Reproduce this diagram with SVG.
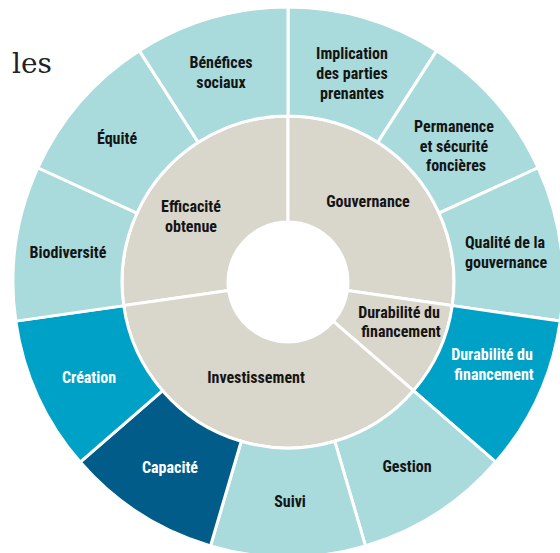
<svg xmlns="http://www.w3.org/2000/svg" width="560" height="553" viewBox="0 0 560 553">
<style>
.seg{stroke:#fff;stroke-width:3;stroke-linejoin:miter}
.lt{fill:#a9dadc}
.bg{fill:#d9d6cc}
.md{fill:#00a1c7}
.dk{fill:#025c89}
text{font-family:"Liberation Sans Narrow","Roboto Condensed","Open Sans",sans-serif;font-stretch:condensed;font-weight:bold;font-size:16px;text-anchor:middle;fill:#141414}
text.w{fill:#fff}
text.title{font-family:"DejaVu Serif","Liberation Serif",serif;font-weight:normal;font-stretch:normal;font-size:28px;text-anchor:start;fill:#222}
</style>
<rect width="560" height="553" fill="#fff"/>
<text class="title" x="12" y="73">les</text>

<g id="efficacite">
<path class="seg bg" d="M 123.69,305.62 A 166 166 0 0 1 288,116 L 288,222 A 60 60 0 0 0 228.61,290.54 Z"/>
<text x="191" y="212">Efficacité</text><text x="191" y="232">obtenue</text>
</g>
<g id="gouvernance">
<path class="seg bg" d="M 288,116 A 166 166 0 0 1 452.31,305.62 L 347.39,290.54 A 60 60 0 0 0 288,222 Z"/>
<text x="368" y="207">Gouvernance</text>
</g>
<g id="durabilite-inner">
<path class="seg bg" d="M 452.31,305.62 A 166 166 0 0 1 413.45,390.71 L 333.35,321.29 A 60 60 0 0 0 347.39,290.54 Z"/>
<text x="399" y="318">Durabilité du</text><text x="401" y="337">financement</text>
</g>
<g id="investissement">
<path class="seg bg" d="M 413.45,390.71 A 166 166 0 0 1 123.69,305.62 L 228.61,290.54 A 60 60 0 0 0 333.35,321.29 Z"/>
<text x="256" y="383">Investissement</text>
</g>

<g id="implication">
<path class="seg lt" d="M 288,7 A 275 275 0 0 1 436.68,50.66 L 377.75,142.35 A 166 166 0 0 0 288,116 Z"/>
<text x="352" y="59">Implication</text><text x="352" y="79">des parties</text><text x="352" y="99">prenantes</text>
</g>
<g id="permanence">
<path class="seg lt" d="M 436.68,50.66 A 275 275 0 0 1 538.15,167.76 L 439,213.04 A 166 166 0 0 0 377.75,142.35 Z"/>
<text x="454" y="132">Permanence</text><text x="454" y="152">et sécurité</text><text x="456" y="171">foncières</text>
</g>
<g id="qualite">
<path class="seg lt" d="M 538.15,167.76 A 275 275 0 0 1 560.2,321.14 L 452.31,305.62 A 166 166 0 0 0 439,213.04 Z"/>
<text x="505" y="248">Qualité de la</text><text x="506" y="268">gouvernance</text>
</g>
<g id="durabilite-outer">
<path class="seg md" d="M 560.2,321.14 A 275 275 0 0 1 495.83,462.09 L 413.45,390.71 A 166 166 0 0 0 452.31,305.62 Z"/>
<text class="w" x="492" y="360">Durabilité du</text><text class="w" x="494" y="380">financement</text>
</g>
<g id="gestion">
<path class="seg lt" d="M 495.83,462.09 A 275 275 0 0 1 365.48,545.87 L 334.77,441.28 A 166 166 0 0 0 413.45,390.71 Z"/>
<text x="407" y="472">Gestion</text>
</g>
<g id="suivi">
<path class="seg lt" d="M 365.48,545.87 A 275 275 0 0 1 210.52,545.87 L 241.23,441.28 A 166 166 0 0 0 334.77,441.28 Z"/>
<text x="290" y="507">Suivi</text>
</g>
<g id="capacite">
<path class="seg dk" d="M 210.52,545.87 A 275 275 0 0 1 80.17,462.09 L 162.55,390.71 A 166 166 0 0 0 241.23,441.28 Z"/>
<text class="w" x="170" y="473">Capacité</text>
</g>
<g id="creation">
<path class="seg md" d="M 80.17,462.09 A 275 275 0 0 1 15.8,321.14 L 123.69,305.62 A 166 166 0 0 0 162.55,390.71 Z"/>
<text class="w" x="89" y="383">Création</text>
</g>
<g id="biodiversite">
<path class="seg lt" d="M 15.8,321.14 A 275 275 0 0 1 37.85,167.76 L 137,213.04 A 166 166 0 0 0 123.69,305.62 Z"/>
<text x="68" y="258">Biodiversité</text>
</g>
<g id="equite">
<path class="seg lt" d="M 37.85,167.76 A 275 275 0 0 1 139.32,50.66 L 198.25,142.35 A 166 166 0 0 0 137,213.04 Z"/>
<text x="117" y="144">Équité</text>
</g>
<g id="benefices">
<path class="seg lt" d="M 139.32,50.66 A 275 275 0 0 1 288,7 L 288,116 A 166 166 0 0 0 198.25,142.35 Z"/>
<text x="221" y="68">Bénéfices</text><text x="221" y="88">sociaux</text>
</g>
</svg>
